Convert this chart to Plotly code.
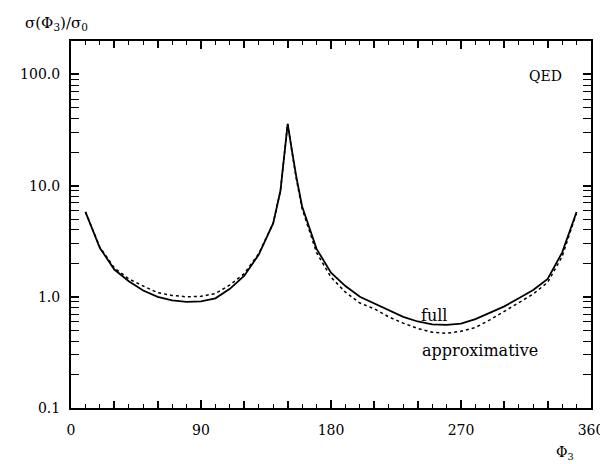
import plotly.graph_objects as go

phi = [10, 20, 30, 40, 50, 60, 70, 80, 90, 100, 110, 120, 130, 140, 145, 148, 150,
       153, 156, 160, 170, 180, 190, 200, 210, 220, 230, 240, 250, 260, 270, 280,
       290, 300, 310, 320, 330, 340, 350]
full = [5.8, 2.75, 1.76, 1.38, 1.14, 1.0, 0.93, 0.90, 0.91, 0.97, 1.18, 1.55, 2.4,
        4.6, 9.0, 20.0, 36.0, 20.5, 12.0, 6.5, 2.7, 1.65, 1.25, 1.0, 0.87, 0.75,
        0.66, 0.60, 0.565, 0.56, 0.575, 0.63, 0.72, 0.82, 0.97, 1.15, 1.45, 2.5, 5.8]
approx = [5.8, 2.8, 1.82, 1.45, 1.25, 1.09, 1.03, 1.0, 1.01, 1.07, 1.28, 1.62, 2.45,
          4.6, 9.0, 20.0, 36.0, 20.0, 11.5, 6.2, 2.5, 1.5, 1.1, 0.88, 0.78, 0.66,
          0.58, 0.52, 0.48, 0.47, 0.49, 0.53, 0.62, 0.74, 0.88, 1.06, 1.35, 2.3, 5.7]

x_major = [0, 90, 180, 270, 360]
x_labels = ["0", "90", "180", "270", "360"]
x_mid = [30, 60, 120, 150, 210, 240, 300, 330]
x_minor = list(range(0, 361, 10))
y_major = [0.1, 1, 10, 100]
y_labels = ["0.1", "1.0", "10.0", "100.0"]
y_minor = [m * d for d in [0.1, 1, 10, 100] for m in range(2, 10) if m * d <= 200]

FONT = "DejaVu Serif"

fig = go.Figure()
fig.add_trace(go.Scatter(x=phi, y=approx, mode="lines",
                         line=dict(color="black", width=1.5, dash="dot"),
                         name="approximative"))
fig.add_trace(go.Scatter(x=phi, y=full, mode="lines",
                         line=dict(color="black", width=1.8),
                         name="full"))
# invisible helper trace so the overlay axis (mid-length ticks) is drawn
fig.add_trace(go.Scatter(x=phi, y=full, mode="lines", xaxis="x2",
                         line=dict(width=0), hoverinfo="skip", showlegend=False,
                         opacity=0))

fig.update_layout(
    width=608, height=464,
    margin=dict(l=57, r=16, t=33, b=64),
    paper_bgcolor="white", plot_bgcolor="white",
    showlegend=False,
    font=dict(family=FONT, size=14, color="black"),
    xaxis=dict(range=[0, 360], tickmode="array", tickvals=x_major, ticktext=x_labels,
               ticks="inside", ticklen=8, tickwidth=1.8, tickcolor="black",
               showline=True, linecolor="black", linewidth=2, mirror="allticks",
               showgrid=False, zeroline=False, ticklabelstandoff=8,
               minor=dict(tickmode="array", tickvals=x_minor, ticks="inside",
                          ticklen=4, tickwidth=1.4, tickcolor="black", showgrid=False)),
    xaxis2=dict(range=[0, 360], overlaying="x", side="bottom", tickmode="array",
                tickvals=x_mid, showticklabels=False, ticks="inside", ticklen=7,
                tickwidth=1.8, tickcolor="black", showline=False, mirror="allticks",
                showgrid=False, zeroline=False),
    yaxis=dict(type="log", range=[-1, 2.301], tickmode="array", tickvals=y_major,
               ticktext=y_labels, ticks="inside", ticklen=8, tickwidth=1.8,
               tickcolor="black", showline=True, linecolor="black", linewidth=2,
               mirror="allticks", showgrid=False, zeroline=False, ticklabelstandoff=6,
               minor=dict(tickmode="array", tickvals=y_minor, ticks="inside",
                          ticklen=4, tickwidth=1.4, tickcolor="black", showgrid=False)),
)

fig.add_annotation(text="σ(Φ<sub>3</sub>)/σ<sub>0</sub>", xref="paper", yref="paper",
                   x=-0.093, y=1.049, xanchor="left", yanchor="middle",
                   showarrow=False, font=dict(family=FONT, size=15))
fig.add_annotation(text="Φ<sub>3</sub>", xref="paper", yref="paper",
                   x=0.95, y=-0.122, xanchor="center", yanchor="middle",
                   showarrow=False, font=dict(family=FONT, size=14))
fig.add_annotation(text="QED", xref="paper", yref="paper",
                   x=0.9126, y=0.905, xanchor="center", yanchor="middle",
                   showarrow=False, font=dict(family=FONT, size=14))
fig.add_annotation(text="full", xref="paper", yref="paper",
                   x=0.699, y=0.2507, xanchor="center", yanchor="middle",
                   showarrow=False, font=dict(family=FONT, size=16))
fig.add_annotation(text="approximative", xref="paper", yref="paper",
                   x=0.671, y=0.158, xanchor="left", yanchor="middle",
                   showarrow=False, font=dict(family=FONT, size=16))

fig.write_html("out.html")
